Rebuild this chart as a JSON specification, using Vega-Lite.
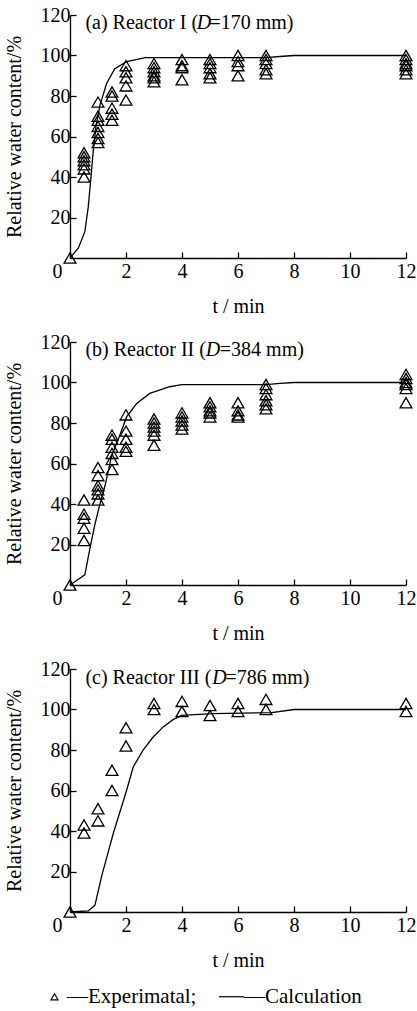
{
  "$schema": "https://vega.github.io/schema/vega-lite/v6.json",
  "background": "white",
  "padding": {"left": 4, "top": 5, "right": 0, "bottom": 2},
  "datasets": {
    "calc": [
      {"panel": "a", "t": 0, "v": 0}, {"panel": "a", "t": 0.3, "v": 5}, {"panel": "a", "t": 0.53, "v": 13}, {"panel": "a", "t": 0.65, "v": 25}, {"panel": "a", "t": 0.74, "v": 38.5}, {"panel": "a", "t": 0.83, "v": 53}, {"panel": "a", "t": 0.93, "v": 65}, {"panel": "a", "t": 1.07, "v": 75.5}, {"panel": "a", "t": 1.31, "v": 86.3}, {"panel": "a", "t": 1.6, "v": 93.5}, {"panel": "a", "t": 2.02, "v": 97}, {"panel": "a", "t": 2.7, "v": 99}, {"panel": "a", "t": 3, "v": 99}, {"panel": "a", "t": 7, "v": 99}, {"panel": "a", "t": 7.5, "v": 99.5}, {"panel": "a", "t": 8, "v": 100}, {"panel": "a", "t": 12, "v": 100},
      {"panel": "b", "t": 0, "v": 0}, {"panel": "b", "t": 0.53, "v": 5}, {"panel": "b", "t": 0.71, "v": 18}, {"panel": "b", "t": 0.89, "v": 30}, {"panel": "b", "t": 1.07, "v": 40}, {"panel": "b", "t": 1.25, "v": 49}, {"panel": "b", "t": 1.49, "v": 64}, {"panel": "b", "t": 1.78, "v": 74}, {"panel": "b", "t": 2.02, "v": 83}, {"panel": "b", "t": 2.38, "v": 89.6}, {"panel": "b", "t": 2.85, "v": 94.6}, {"panel": "b", "t": 3.56, "v": 97.9}, {"panel": "b", "t": 4, "v": 99}, {"panel": "b", "t": 7, "v": 99}, {"panel": "b", "t": 7.5, "v": 99.6}, {"panel": "b", "t": 8, "v": 100}, {"panel": "b", "t": 12, "v": 100},
      {"panel": "c", "t": 0, "v": 0}, {"panel": "c", "t": 0.65, "v": 0.5}, {"panel": "c", "t": 0.89, "v": 3.3}, {"panel": "c", "t": 1.13, "v": 17.7}, {"panel": "c", "t": 1.55, "v": 39}, {"panel": "c", "t": 2.02, "v": 60}, {"panel": "c", "t": 2.26, "v": 71.7}, {"panel": "c", "t": 2.61, "v": 79.9}, {"panel": "c", "t": 2.97, "v": 86.4}, {"panel": "c", "t": 3.33, "v": 91.4}, {"panel": "c", "t": 3.68, "v": 95}, {"panel": "c", "t": 3.98, "v": 97.1}, {"panel": "c", "t": 5.1, "v": 98}, {"panel": "c", "t": 7.2, "v": 98.5}, {"panel": "c", "t": 8, "v": 100}, {"panel": "c", "t": 12, "v": 100}
    ],
    "exp": [
      {"panel": "a", "t": 0, "v": 0},
      {"panel": "a", "t": 0.5, "v": 52}, {"panel": "a", "t": 0.5, "v": 50}, {"panel": "a", "t": 0.5, "v": 48}, {"panel": "a", "t": 0.5, "v": 46}, {"panel": "a", "t": 0.5, "v": 44}, {"panel": "a", "t": 0.5, "v": 40},
      {"panel": "a", "t": 1, "v": 77}, {"panel": "a", "t": 1, "v": 70}, {"panel": "a", "t": 1, "v": 68}, {"panel": "a", "t": 1, "v": 65}, {"panel": "a", "t": 1, "v": 62}, {"panel": "a", "t": 1, "v": 59}, {"panel": "a", "t": 1, "v": 57},
      {"panel": "a", "t": 1.5, "v": 82}, {"panel": "a", "t": 1.5, "v": 80}, {"panel": "a", "t": 1.5, "v": 74}, {"panel": "a", "t": 1.5, "v": 71}, {"panel": "a", "t": 1.5, "v": 68},
      {"panel": "a", "t": 2, "v": 95}, {"panel": "a", "t": 2, "v": 92}, {"panel": "a", "t": 2, "v": 89}, {"panel": "a", "t": 2, "v": 85}, {"panel": "a", "t": 2, "v": 78},
      {"panel": "a", "t": 3, "v": 96}, {"panel": "a", "t": 3, "v": 94}, {"panel": "a", "t": 3, "v": 92}, {"panel": "a", "t": 3, "v": 90}, {"panel": "a", "t": 3, "v": 89}, {"panel": "a", "t": 3, "v": 87},
      {"panel": "a", "t": 4, "v": 98}, {"panel": "a", "t": 4, "v": 95}, {"panel": "a", "t": 4, "v": 94}, {"panel": "a", "t": 4, "v": 88},
      {"panel": "a", "t": 5, "v": 98}, {"panel": "a", "t": 5, "v": 96}, {"panel": "a", "t": 5, "v": 94}, {"panel": "a", "t": 5, "v": 91}, {"panel": "a", "t": 5, "v": 89},
      {"panel": "a", "t": 6, "v": 100}, {"panel": "a", "t": 6, "v": 97}, {"panel": "a", "t": 6, "v": 95}, {"panel": "a", "t": 6, "v": 90},
      {"panel": "a", "t": 7, "v": 100}, {"panel": "a", "t": 7, "v": 98}, {"panel": "a", "t": 7, "v": 96}, {"panel": "a", "t": 7, "v": 93}, {"panel": "a", "t": 7, "v": 91},
      {"panel": "a", "t": 12, "v": 100}, {"panel": "a", "t": 12, "v": 98}, {"panel": "a", "t": 12, "v": 96}, {"panel": "a", "t": 12, "v": 95}, {"panel": "a", "t": 12, "v": 93}, {"panel": "a", "t": 12, "v": 91},
      {"panel": "b", "t": 0, "v": 0},
      {"panel": "b", "t": 0.5, "v": 42}, {"panel": "b", "t": 0.5, "v": 35}, {"panel": "b", "t": 0.5, "v": 33}, {"panel": "b", "t": 0.5, "v": 28}, {"panel": "b", "t": 0.5, "v": 22},
      {"panel": "b", "t": 1, "v": 58}, {"panel": "b", "t": 1, "v": 54}, {"panel": "b", "t": 1, "v": 49}, {"panel": "b", "t": 1, "v": 47}, {"panel": "b", "t": 1, "v": 45}, {"panel": "b", "t": 1, "v": 42},
      {"panel": "b", "t": 1.5, "v": 74}, {"panel": "b", "t": 1.5, "v": 72}, {"panel": "b", "t": 1.5, "v": 68}, {"panel": "b", "t": 1.5, "v": 65}, {"panel": "b", "t": 1.5, "v": 62}, {"panel": "b", "t": 1.5, "v": 57},
      {"panel": "b", "t": 2, "v": 84}, {"panel": "b", "t": 2, "v": 76}, {"panel": "b", "t": 2, "v": 72}, {"panel": "b", "t": 2, "v": 68}, {"panel": "b", "t": 2, "v": 66},
      {"panel": "b", "t": 3, "v": 82}, {"panel": "b", "t": 3, "v": 80}, {"panel": "b", "t": 3, "v": 78}, {"panel": "b", "t": 3, "v": 76}, {"panel": "b", "t": 3, "v": 74}, {"panel": "b", "t": 3, "v": 69},
      {"panel": "b", "t": 4, "v": 85}, {"panel": "b", "t": 4, "v": 83}, {"panel": "b", "t": 4, "v": 81}, {"panel": "b", "t": 4, "v": 79}, {"panel": "b", "t": 4, "v": 77},
      {"panel": "b", "t": 5, "v": 90}, {"panel": "b", "t": 5, "v": 88}, {"panel": "b", "t": 5, "v": 86}, {"panel": "b", "t": 5, "v": 85}, {"panel": "b", "t": 5, "v": 83},
      {"panel": "b", "t": 6, "v": 90}, {"panel": "b", "t": 6, "v": 86}, {"panel": "b", "t": 6, "v": 84}, {"panel": "b", "t": 6, "v": 83},
      {"panel": "b", "t": 7, "v": 99}, {"panel": "b", "t": 7, "v": 97}, {"panel": "b", "t": 7, "v": 94}, {"panel": "b", "t": 7, "v": 91}, {"panel": "b", "t": 7, "v": 89}, {"panel": "b", "t": 7, "v": 87},
      {"panel": "b", "t": 12, "v": 104}, {"panel": "b", "t": 12, "v": 102}, {"panel": "b", "t": 12, "v": 100}, {"panel": "b", "t": 12, "v": 99}, {"panel": "b", "t": 12, "v": 97}, {"panel": "b", "t": 12, "v": 90},
      {"panel": "c", "t": 0, "v": 0},
      {"panel": "c", "t": 0.5, "v": 43}, {"panel": "c", "t": 0.5, "v": 39},
      {"panel": "c", "t": 1, "v": 51}, {"panel": "c", "t": 1, "v": 45},
      {"panel": "c", "t": 1.5, "v": 70}, {"panel": "c", "t": 1.5, "v": 60},
      {"panel": "c", "t": 2, "v": 91}, {"panel": "c", "t": 2, "v": 82},
      {"panel": "c", "t": 3, "v": 103}, {"panel": "c", "t": 3, "v": 100},
      {"panel": "c", "t": 4, "v": 104}, {"panel": "c", "t": 4, "v": 99},
      {"panel": "c", "t": 5, "v": 102}, {"panel": "c", "t": 5, "v": 97},
      {"panel": "c", "t": 6, "v": 103}, {"panel": "c", "t": 6, "v": 99},
      {"panel": "c", "t": 7, "v": 105}, {"panel": "c", "t": 7, "v": 100},
      {"panel": "c", "t": 12, "v": 103}, {"panel": "c", "t": 12, "v": 99}
    ],
    "titles": [
      {"panel": "a", "t": 0.55, "v": 116, "label": "(a) Reactor I (", "it": 0},
      {"panel": "a", "t": 4.53, "v": 116, "label": "D", "it": 1},
      {"panel": "a", "t": 4.98, "v": 116, "label": "=170 mm)", "it": 0},
      {"panel": "b", "t": 0.55, "v": 116, "label": "(b) Reactor II (", "it": 0},
      {"panel": "b", "t": 4.85, "v": 116, "label": "D", "it": 1},
      {"panel": "b", "t": 5.35, "v": 116, "label": "=384 mm)", "it": 0},
      {"panel": "c", "t": 0.55, "v": 115.6, "label": "(c) Reactor III (", "it": 0},
      {"panel": "c", "t": 5.08, "v": 115.6, "label": "D", "it": 1},
      {"panel": "c", "t": 5.55, "v": 115.6, "label": "=786 mm)", "it": 0}
    ]
  },
  "vconcat": [
    {
      "width": 336, "height": 243,
      "layer": [
        {"data": {"name": "calc"}, "transform": [{"filter": "datum.panel == 'a'"}],
         "mark": {"type": "line", "color": "black", "strokeWidth": 1.3},
         "encoding": {
           "x": {"field": "t", "type": "quantitative", "scale": {"domain": [0, 12], "nice": false, "zero": false}, "axis": {"values": [0, 2, 4, 6, 8, 10, 12], "title": "t / min"}},
           "y": {"field": "v", "type": "quantitative", "scale": {"domain": [0, 120], "nice": false}, "axis": {"values": [20, 40, 60, 80, 100, 120], "title": "Relative water content/%"}}
         }},
        {"data": {"name": "exp"}, "transform": [{"filter": "datum.panel == 'a'"}],
         "mark": {"type": "point", "shape": "triangle-up", "filled": false, "color": "black", "size": 140, "strokeWidth": 1.3, "opacity": 1},
         "encoding": {"x": {"field": "t", "type": "quantitative"}, "y": {"field": "v", "type": "quantitative"}}},
        {"data": {"name": "titles"}, "transform": [{"filter": "datum.panel == 'a' && datum.it == 0"}],
         "mark": {"type": "text", "align": "left", "baseline": "middle", "font": "Times New Roman, Liberation Serif, serif", "fontSize": 20, "color": "black"},
         "encoding": {"x": {"field": "t", "type": "quantitative"}, "y": {"field": "v", "type": "quantitative"}, "text": {"field": "label"}}},
        {"data": {"name": "titles"}, "transform": [{"filter": "datum.panel == 'a' && datum.it == 1"}],
         "mark": {"type": "text", "align": "left", "baseline": "middle", "font": "Times New Roman, Liberation Serif, serif", "fontSize": 20, "fontStyle": "italic", "color": "black"},
         "encoding": {"x": {"field": "t", "type": "quantitative"}, "y": {"field": "v", "type": "quantitative"}, "text": {"field": "label"}}}
      ]
    },
    {
      "width": 336, "height": 243,
      "layer": [
        {"data": {"name": "calc"}, "transform": [{"filter": "datum.panel == 'b'"}],
         "mark": {"type": "line", "color": "black", "strokeWidth": 1.3},
         "encoding": {
           "x": {"field": "t", "type": "quantitative", "scale": {"domain": [0, 12], "nice": false, "zero": false}, "axis": {"values": [0, 2, 4, 6, 8, 10, 12], "title": "t / min"}},
           "y": {"field": "v", "type": "quantitative", "scale": {"domain": [0, 120], "nice": false}, "axis": {"values": [20, 40, 60, 80, 100, 120], "title": "Relative water content/%"}}
         }},
        {"data": {"name": "exp"}, "transform": [{"filter": "datum.panel == 'b'"}],
         "mark": {"type": "point", "shape": "triangle-up", "filled": false, "color": "black", "size": 140, "strokeWidth": 1.3, "opacity": 1},
         "encoding": {"x": {"field": "t", "type": "quantitative"}, "y": {"field": "v", "type": "quantitative"}}},
        {"data": {"name": "titles"}, "transform": [{"filter": "datum.panel == 'b' && datum.it == 0"}],
         "mark": {"type": "text", "align": "left", "baseline": "middle", "font": "Times New Roman, Liberation Serif, serif", "fontSize": 20, "color": "black"},
         "encoding": {"x": {"field": "t", "type": "quantitative"}, "y": {"field": "v", "type": "quantitative"}, "text": {"field": "label"}}},
        {"data": {"name": "titles"}, "transform": [{"filter": "datum.panel == 'b' && datum.it == 1"}],
         "mark": {"type": "text", "align": "left", "baseline": "middle", "font": "Times New Roman, Liberation Serif, serif", "fontSize": 20, "fontStyle": "italic", "color": "black"},
         "encoding": {"x": {"field": "t", "type": "quantitative"}, "y": {"field": "v", "type": "quantitative"}, "text": {"field": "label"}}}
      ]
    },
    {
      "width": 336, "height": 243,
      "layer": [
        {"data": {"name": "calc"}, "transform": [{"filter": "datum.panel == 'c'"}],
         "mark": {"type": "line", "color": "black", "strokeWidth": 1.3},
         "encoding": {
           "x": {"field": "t", "type": "quantitative", "scale": {"domain": [0, 12], "nice": false, "zero": false}, "axis": {"values": [0, 2, 4, 6, 8, 10, 12], "title": "t / min"}},
           "y": {"field": "v", "type": "quantitative", "scale": {"domain": [0, 120], "nice": false}, "axis": {"values": [20, 40, 60, 80, 100, 120], "title": "Relative water content/%"}}
         }},
        {"data": {"name": "exp"}, "transform": [{"filter": "datum.panel == 'c'"}, {"calculate": "'Experimatal'", "as": "series"}],
         "mark": {"type": "point", "filled": false, "color": "black", "size": 140, "strokeWidth": 1.3, "opacity": 1},
         "encoding": {
           "x": {"field": "t", "type": "quantitative"},
           "y": {"field": "v", "type": "quantitative"},
           "shape": {"field": "series", "type": "nominal",
             "scale": {"domain": ["Experimatal", "Calculation"], "range": ["M0,-0.866L1,0.866L-1,0.866Z", "M-3.6,0H3.6"]},
             "legend": {"orient": "none", "legendX": -26, "legendY": 971, "direction": "horizontal", "title": null, "symbolSize": 49, "symbolStrokeColor": "black", "symbolFillColor": "transparent", "symbolStrokeWidth": 1.2, "labelFont": "Times New Roman, Liberation Serif, serif", "labelFontSize": 21, "labelColor": "black", "labelOffset": 2, "columnPadding": 19,
               "labelExpr": "datum.label == 'Experimatal' ? '\u2014Experimatal;' : '\u2002\u2009\u2014Calculation'"}}
         }},
        {"data": {"name": "titles"}, "transform": [{"filter": "datum.panel == 'c' && datum.it == 0"}],
         "mark": {"type": "text", "align": "left", "baseline": "middle", "font": "Times New Roman, Liberation Serif, serif", "fontSize": 20, "color": "black"},
         "encoding": {"x": {"field": "t", "type": "quantitative"}, "y": {"field": "v", "type": "quantitative"}, "text": {"field": "label"}}},
        {"data": {"name": "titles"}, "transform": [{"filter": "datum.panel == 'c' && datum.it == 1"}],
         "mark": {"type": "text", "align": "left", "baseline": "middle", "font": "Times New Roman, Liberation Serif, serif", "fontSize": 20, "fontStyle": "italic", "color": "black"},
         "encoding": {"x": {"field": "t", "type": "quantitative"}, "y": {"field": "v", "type": "quantitative"}, "text": {"field": "label"}}}
      ]
    }
  ],
  "bounds": "flush",
  "spacing": 84,
  "config": {
    "view": {"stroke": null},
    "axis": {
      "grid": false,
      "domainColor": "black", "domainWidth": 1.3,
      "tickColor": "black", "tickWidth": 1.3, "tickSize": -6,
      "labelFont": "Times New Roman, Liberation Serif, serif", "labelFontSize": 20, "labelColor": "black", "labelPadding": 6,
      "titleFont": "Times New Roman, Liberation Serif, serif", "titleFontSize": 20, "titleFontWeight": "normal", "titleColor": "black"
    },
    "axisX": {"titlePadding": 15, "labelPadding": 9, "labelFlush": false, "labelOffset": {"condition": {"test": "datum.value == 0", "value": -13}, "value": 0}},
    "axisY": {"titlePadding": 16}
  }
}
